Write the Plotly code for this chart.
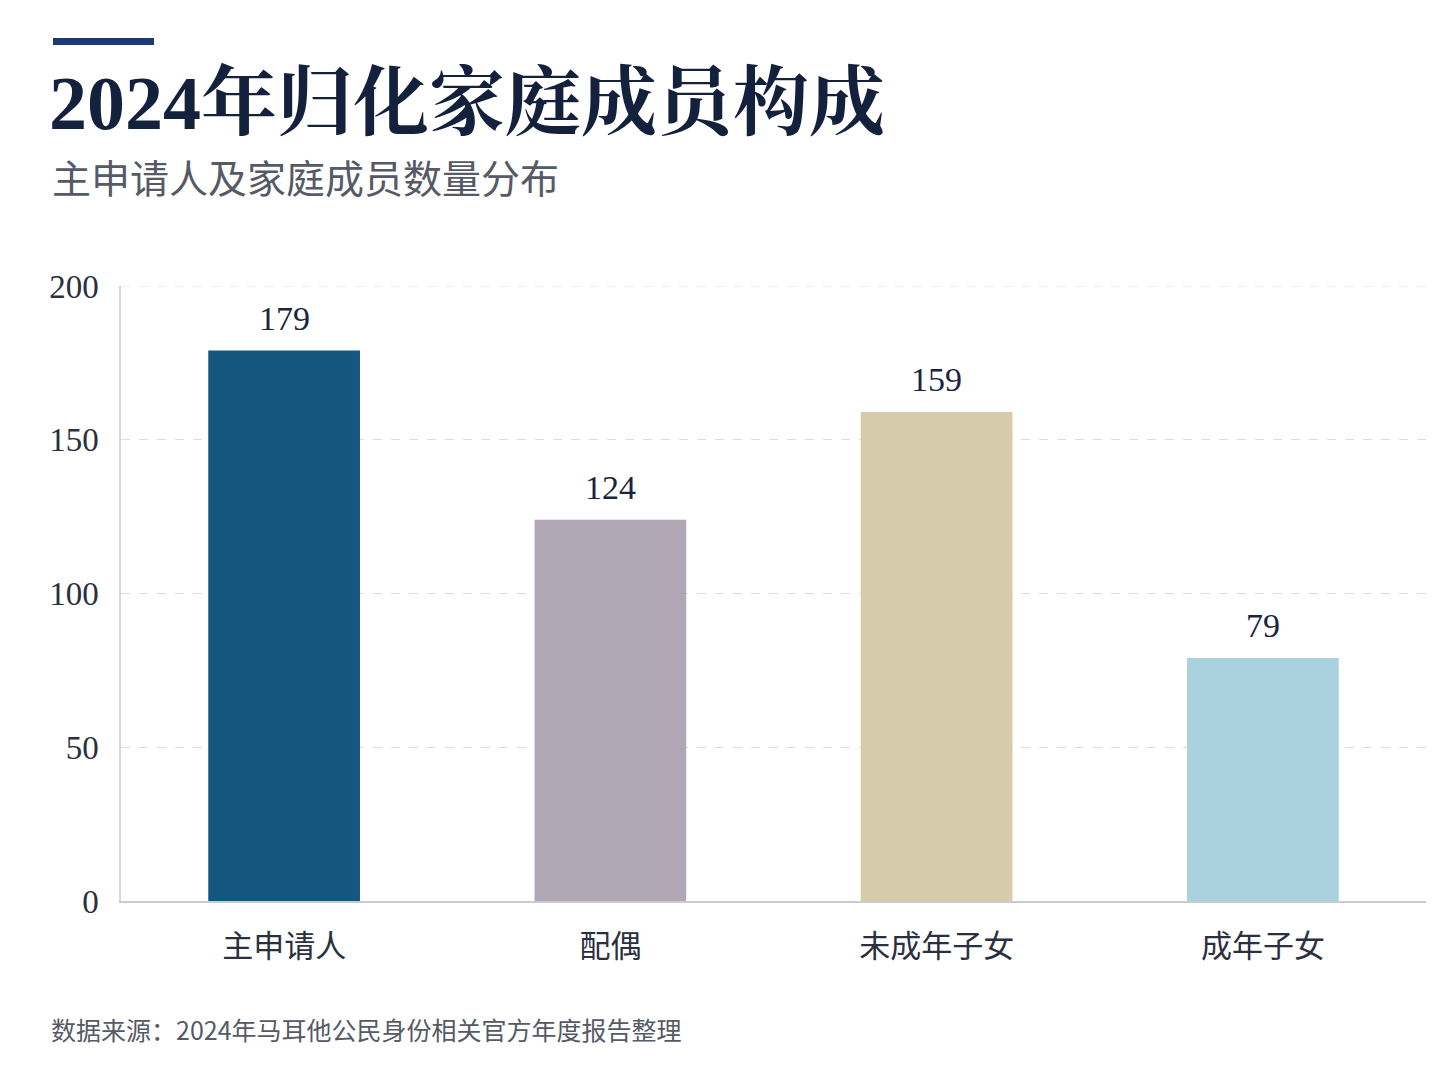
import plotly.graph_objects as go

categories = ['主申请人', '配偶', '未成年子女', '成年子女']
counts = [179, 124, 159, 79]
bar_colors = ['#15567F', '#B0A6B4', '#D6CBAA', '#AAD1DE']
y_ticks = [0, 50, 100, 150, 200]

SERIF = 'Liberation Serif, Noto Serif CJK SC, Noto Sans CJK SC, serif'
CJK = 'Noto Sans CJK SC, sans-serif'

# plot box in page pixels (page has a small body offset)
PX0, PW = 120, 1305
PY0, PH = 901, 615


def px(x):
    return (x - PX0) / PW


def py(y):
    return (PY0 - y) / PH


fig = go.Figure()
fig.add_trace(go.Bar(
    x=categories,
    y=counts,
    marker=dict(color=bar_colors, line=dict(width=0)),
    width=0.465,
    hoverinfo='x+y',
))

for cat, val in zip(categories, counts):
    fig.add_annotation(x=cat, y=val, text=str(val), showarrow=False,
                       yanchor='bottom', yshift=12,
                       font=dict(family=SERIF, size=34, color='#1B2540'))

fig.update_layout(
    width=1448, height=1086,
    paper_bgcolor='white', plot_bgcolor='white',
    margin=dict(l=113, r=30, t=278, b=193),
    showlegend=False,
    xaxis=dict(
        showgrid=False, showline=True, linecolor='#C8CBD2', linewidth=2,
        ticks='', ticklabelstandoff=17,
        tickfont=dict(family=CJK, size=31, color='#2B3040'),
    ),
    yaxis=dict(
        range=[0, 200], tickvals=y_ticks, showgrid=True,
        gridcolor='#DCDDE0', griddash='dash', gridwidth=1,
        showline=True, linecolor='#D5D7DC', linewidth=1.5,
        zeroline=False, ticks='', ticklabelstandoff=14,
        tickfont=dict(family=SERIF, size=33, color='#2B3040'),
    ),
)

# dashed gridline at the top of the range
fig.add_shape(type='line', xref='paper', yref='y', x0=0, x1=1, y0=200, y1=200,
              line=dict(color='#DCDDE0', width=1, dash='dash'))

# top accent rule
fig.add_shape(type='rect', xref='paper', yref='paper',
              x0=px(52), x1=px(153), y0=py(45), y1=py(38),
              fillcolor='#1C3A70', line=dict(width=0))

fig.add_annotation(text='<b>2024年归化家庭成员构成</b>', xref='paper', yref='paper',
                   x=px(46), y=py(103), xanchor='left', yanchor='middle',
                   showarrow=False, font=dict(family=SERIF, size=76, color='#14213D'))
fig.add_annotation(text='主申请人及家庭成员数量分布', xref='paper', yref='paper',
                   x=px(49), y=py(176), xanchor='left', yanchor='middle',
                   showarrow=False, font=dict(family=CJK, size=39, color='#555A66'))
fig.add_annotation(text='数据来源：2024年马耳他公民身份相关官方年度报告整理', xref='paper', yref='paper',
                   x=px(48), y=py(1029), xanchor='left', yanchor='middle',
                   showarrow=False, font=dict(family=CJK, size=25, color='#555A66'))

fig.write_html("out.html")
